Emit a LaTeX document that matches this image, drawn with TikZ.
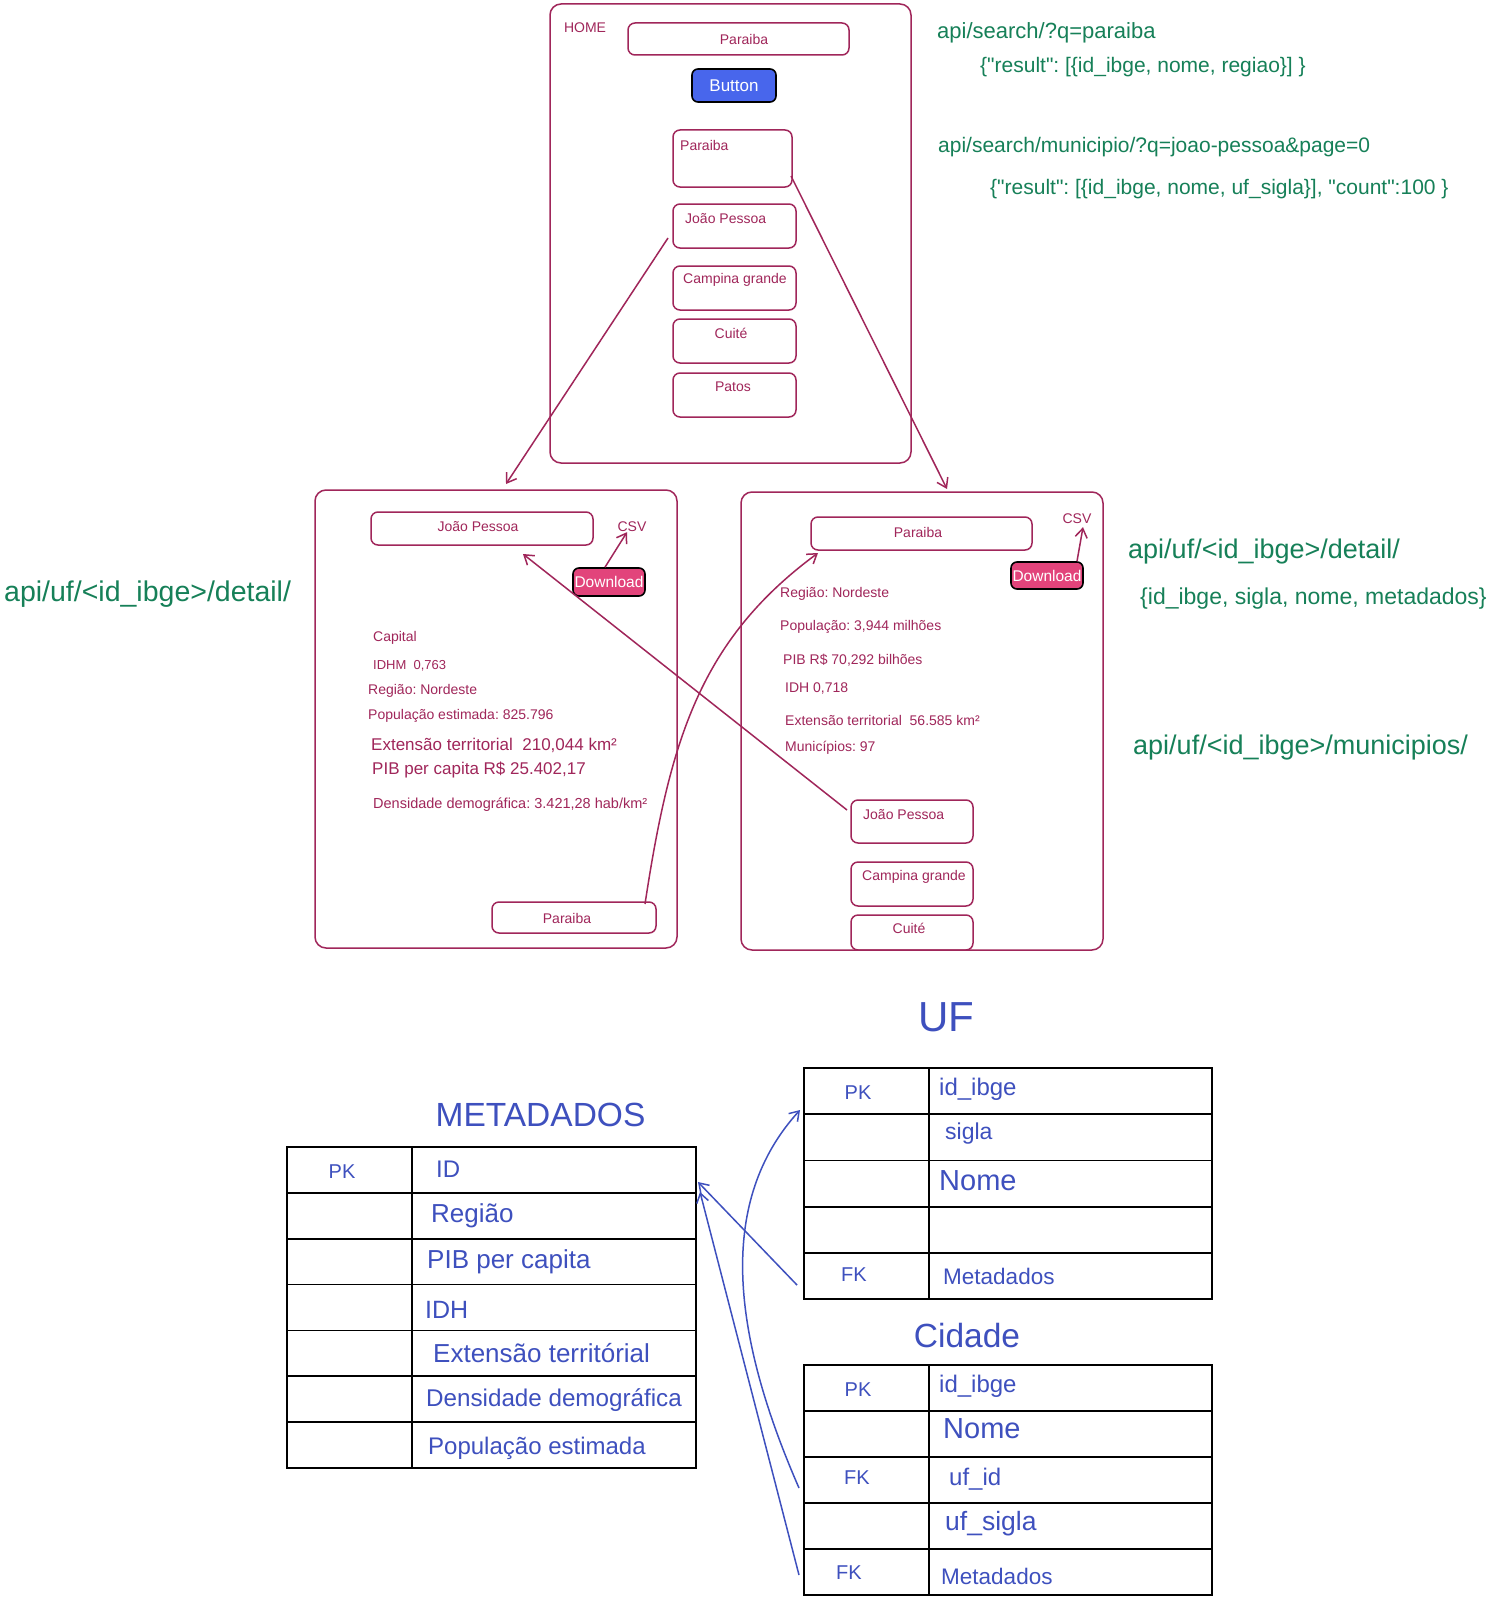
\documentclass[tikz,border=0pt]{standalone}
\usepackage{fontspec}
\setmainfont{Liberation Sans}[Ligatures=TeXOff]
\usetikzlibrary{arrows.meta}
\definecolor{maroon}{RGB}{160,38,90}
\definecolor{tgreen}{RGB}{22,128,88}
\definecolor{tblue}{RGB}{62,80,190}
\definecolor{btnblue}{RGB}{72,102,236}
\definecolor{dlpink}{RGB}{226,68,123}
\newcommand\fsz[1]{\fontsize{#1}{#1}\selectfont}
\frenchspacing
\begin{document}
\begin{tikzpicture}[x=1pt,y=-1pt,
  sz/.style 2 args={minimum width=#1pt, minimum height=#2pt},
  mbox/.style={draw=maroon, line width=1.5pt, rounded corners=7pt, inner sep=0pt},
  bigbox/.style={mbox, rounded corners=11pt},
  mt/.style={text=maroon, inner sep=0pt, font=\fsz{14}},
  gt/.style={text=tgreen, inner sep=0pt, anchor=west},
  bt/.style={text=tblue, inner sep=0pt},
  btn/.style={draw=black, line width=1.6pt, rounded corners=6pt, inner sep=0pt, text=white},
  cell/.style={draw=black, line width=1.8pt, inner sep=0pt},
  marr/.style={draw=maroon, line width=1.5pt, -{Straight Barb[length=9pt,width=12pt,line width=1.5pt]}},
  barr/.style={draw=tblue, line width=1.5pt, -{Straight Barb[length=9pt,width=12pt,line width=1.5pt]}}
]
\fill[white] (0,0) rectangle (1493,1600);
\useasboundingbox (0,0) rectangle (1493,1600);

% ---------- HOME ----------
\node[bigbox, sz={361}{459}] (home) at (730.5,233.5) {};
\node[mt] (hometxt) at (585,28) {HOME};
\node[mbox, sz={221}{32}] (hsearch) at (738.5,39) {};
\node[mt] (hsearchtxt) at (744,39) {Paraiba};
\node[btn, fill=btnblue, sz={84}{33}, font=\fsz{17}] (button) at (734,85.5) {Button};
\node[mbox, sz={119}{57}] (r1) at (732.5,158.5) {};
\node[mt, anchor=west] (r1t) at (680,145) {Paraiba};
\node[mbox, sz={123}{44}] (r2) at (734.5,226) {};
\node[mt, anchor=west] (r2t) at (685,219) {João Pessoa};
\node[mbox, sz={123}{44}] (r3) at (734.5,288) {};
\node[mt, anchor=west] (r3t) at (683,280) {Campina grande};
\node[mbox, sz={123}{44}] (r4) at (734.5,341) {};
\node[mt] (r4t) at (731,333) {Cuité};
\node[mbox, sz={123}{44}] (r5) at (734.5,395) {};
\node[mt] (r5t) at (733,387) {Patos};

% ---------- left detail ----------
\node[bigbox, sz={362}{458}] (ld) at (496,719) {};
\node[mbox, sz={222}{33}] (ljp) at (482,528.5) {};
\node[mt] (ljpt) at (478,527) {João Pessoa};
\node[mt] (lcsv) at (632,527) {CSV};
\node[btn, fill=dlpink, sz={72}{28}, font=\fsz{15.5}] (ldl) at (609,582) {Download};
\node[mt, anchor=west] (l1) at (373,638) {Capital};
\node[mt, anchor=west, font=\fsz{13}] (l2) at (373,666) {IDHM\ \ 0,763};
\node[mt, anchor=west] (l3) at (368,691) {Região: Nordeste};
\node[mt, anchor=west] (l4) at (368,716) {População estimada: 825.796};
\node[mt, anchor=west, font=\fsz{17}] (l5) at (371,745) {Extensão territorial\ \ 210,044 km²};
\node[mt, anchor=west, font=\fsz{17}] (l6) at (372,770) {PIB per capita R\$ 25.402,17};
\node[mt, anchor=west, font=\fsz{14.5}] (l7) at (373,805) {Densidade demográfica: 3.421,28 hab/km²};
\node[mbox, sz={164}{31}] (lpb) at (574,917.5) {};
\node[mt] (lpbt) at (567,918) {Paraiba};

% ---------- right detail ----------
\node[bigbox, sz={362}{458}] (rd) at (922,721) {};
\node[mbox, sz={221}{33}] (rpb) at (921.5,533.5) {};
\node[mt] (rpbt) at (918,532) {Paraiba};
\node[mt] (rcsv) at (1077,519) {CSV};
\node[btn, fill=dlpink, sz={72}{27}, font=\fsz{15.5}] (rdl) at (1047,575.5) {Download};
\node[mt, anchor=west] (q1) at (780,594) {Região: Nordeste};
\node[mt, anchor=west] (q2) at (780,627) {População: 3,944 milhões};
\node[mt, anchor=west] (q3) at (783,660) {PIB R\$ 70,292 bilhões};
\node[mt, anchor=west] (q4) at (785,688) {IDH 0,718};
\node[mt, anchor=west] (q5) at (785,720) {Extensão territorial\ \ 56.585 km²};
\node[mt, anchor=west] (q6) at (785,748) {Municípios: 97};
\node[mbox, sz={122}{43}] (rjp) at (912,821.5) {};
\node[mt, anchor=west] (rjpt) at (863,815) {João Pessoa};
\node[mbox, sz={122}{44}] (rcg) at (912,884) {};
\node[mt, anchor=west] (rcgt) at (862,877) {Campina grande};
\node[mbox, sz={122}{35}] (rcu) at (912,932.5) {};
\node[mt] (rcut) at (909,928) {Cuité};

% ---------- maroon connectors ----------
\coordinate (a1s) at (668,238);
\coordinate (a1e) at (506,484);
\draw[marr] (a1s) -- (a1e);
\coordinate (a2s) at (791,176);
\coordinate (a2e) at (947,489);
\draw[marr] (a2s) -- (a2e);
\coordinate (a3s) at (645,904);
\coordinate (a3e) at (818,553);
\draw[marr] (a3s) .. controls (670,740) and (700,640) .. (a3e);
\coordinate (a4s) at (847,810);
\coordinate (a4e) at (523,554);
\draw[marr] (a4s) -- (a4e);
\draw[marr] ([xshift=-4pt]ldl.north) -- ([xshift=-5pt]lcsv.south);
\draw[marr] ([xshift=30pt]rdl.north) -- ([xshift=6pt,yshift=-3pt]rcsv.south);

% ---------- green texts ----------
\node[gt, font=\fsz{22}] (g1) at (937,33) {api/search/?q=paraiba};
\node[gt, font=\fsz{21}] (g2) at (980,67) {\{"result": [\{id\_ibge, nome, regiao\}] \}};
\node[gt, font=\fsz{21}] (g3) at (938,147) {api/search/municipio/?q=joao-pessoa\&page=0};
\node[gt, font=\fsz{21}] (g4) at (990,189) {\{"result": [\{id\_ibge, nome, uf\_sigla\}], "count":100 \}};
\node[gt, font=\fsz{27}] (g5) at (1128,552) {api/uf/<id\_ibge>/detail/};
\node[gt, font=\fsz{23}] (g6) at (1140,599) {\{id\_ibge, sigla, nome, metadados\}};
\node[gt, font=\fsz{27}] (g7) at (1133,748) {api/uf/<id\_ibge>/municipios/};
\node[gt, font=\fsz{28.5}] (g8) at (4,594) {api/uf/<id\_ibge>/detail/};

% ---------- METADADOS table ----------
\node[bt, font=\fsz{33.5}] (mtitle) at (540.5,1115) {METADADOS};
\foreach \i in {0,...,6} {
  \node[cell, sz={125}{45.86}] (mk\i) at (349.5,{1147+45.86*(\i+0.5)}) {};
  \node[cell, sz={284}{45.86}] (mf\i) at (554,{1147+45.86*(\i+0.5)}) {};
}
\node[bt, font=\fsz{20}] (mpk) at (342,1172) {PK};
\node[bt, anchor=west, font=\fsz{24}] (m0) at (436,1169) {ID};
\node[bt, anchor=west, font=\fsz{26}] (m1) at (431,1216) {Região};
\node[bt, anchor=west, font=\fsz{26}] (m2) at (427,1262) {PIB per capita};
\node[bt, anchor=west, font=\fsz{25}] (m3) at (425,1310) {IDH};
\node[bt, anchor=west, font=\fsz{26}] (m4) at (433,1353) {Extensão territórial};
\node[bt, anchor=west, font=\fsz{24.2}] (m5) at (426,1400) {Densidade demográfica};
\node[bt, anchor=west, font=\fsz{24}] (m6) at (428,1448) {População estimada};

% ---------- UF table ----------
\node[bt, font=\fsz{42}] (utitle) at (946,1017) {UF};
\foreach \i in {0,...,4} {
  \node[cell, sz={125}{46.2}] (uk\i) at (866.5,{1068+46.2*(\i+0.5)}) {};
  \node[cell, sz={283}{46.2}] (uf\i) at (1070.5,{1068+46.2*(\i+0.5)}) {};
}
\node[bt, font=\fsz{20}] (upk) at (858,1093) {PK};
\node[bt, anchor=west, font=\fsz{24}] (u0) at (939,1089) {id\_ibge};
\node[bt, anchor=west, font=\fsz{23}] (u1) at (945,1134) {sigla};
\node[bt, anchor=west, font=\fsz{29}] (u2) at (939,1181) {Nome};
\node[bt, font=\fsz{20}] (ufk) at (854,1275) {FK};
\node[bt, anchor=west, font=\fsz{22.5}] (u4) at (943,1276) {Metadados};

% ---------- Cidade table ----------
\node[bt, font=\fsz{33.5}] (ctitle) at (967,1336) {Cidade};
\foreach \i in {0,...,4} {
  \node[cell, sz={125}{46}] (ck\i) at (866.5,{1365+46*(\i+0.5)}) {};
  \node[cell, sz={283}{46}] (cf\i) at (1070.5,{1365+46*(\i+0.5)}) {};
}
\node[bt, font=\fsz{20}] (cpk) at (858,1390) {PK};
\node[bt, anchor=west, font=\fsz{24}] (c0) at (939,1386) {id\_ibge};
\node[bt, anchor=west, font=\fsz{29}] (c1) at (943,1429) {Nome};
\node[bt, font=\fsz{20}] (cfk1) at (857,1478) {FK};
\node[bt, anchor=west, font=\fsz{24}] (c2) at (949,1479) {uf\_id};
\node[bt, anchor=west, font=\fsz{26.5}] (c3) at (945,1524) {uf\_sigla};
\node[bt, font=\fsz{20}] (cfk2) at (849,1573) {FK};
\node[bt, anchor=west, font=\fsz{22.5}] (c4) at (941,1576) {Metadados};

% ---------- blue connectors ----------
\coordinate (b1s) at (797,1285);
\coordinate (b1e) at (698,1182);
\draw[barr] (b1s) -- (b1e);
\coordinate (b2s) at (799,1488);
\coordinate (b2e) at (800,1110);
\draw[barr] (b2s) .. controls (730,1330) and (718,1200) .. (b2e);
\coordinate (b3s) at (799,1575);
\coordinate (b3e) at (700,1192);
\draw[barr] (b3s) -- (b3e);
\end{tikzpicture}
\end{document}
